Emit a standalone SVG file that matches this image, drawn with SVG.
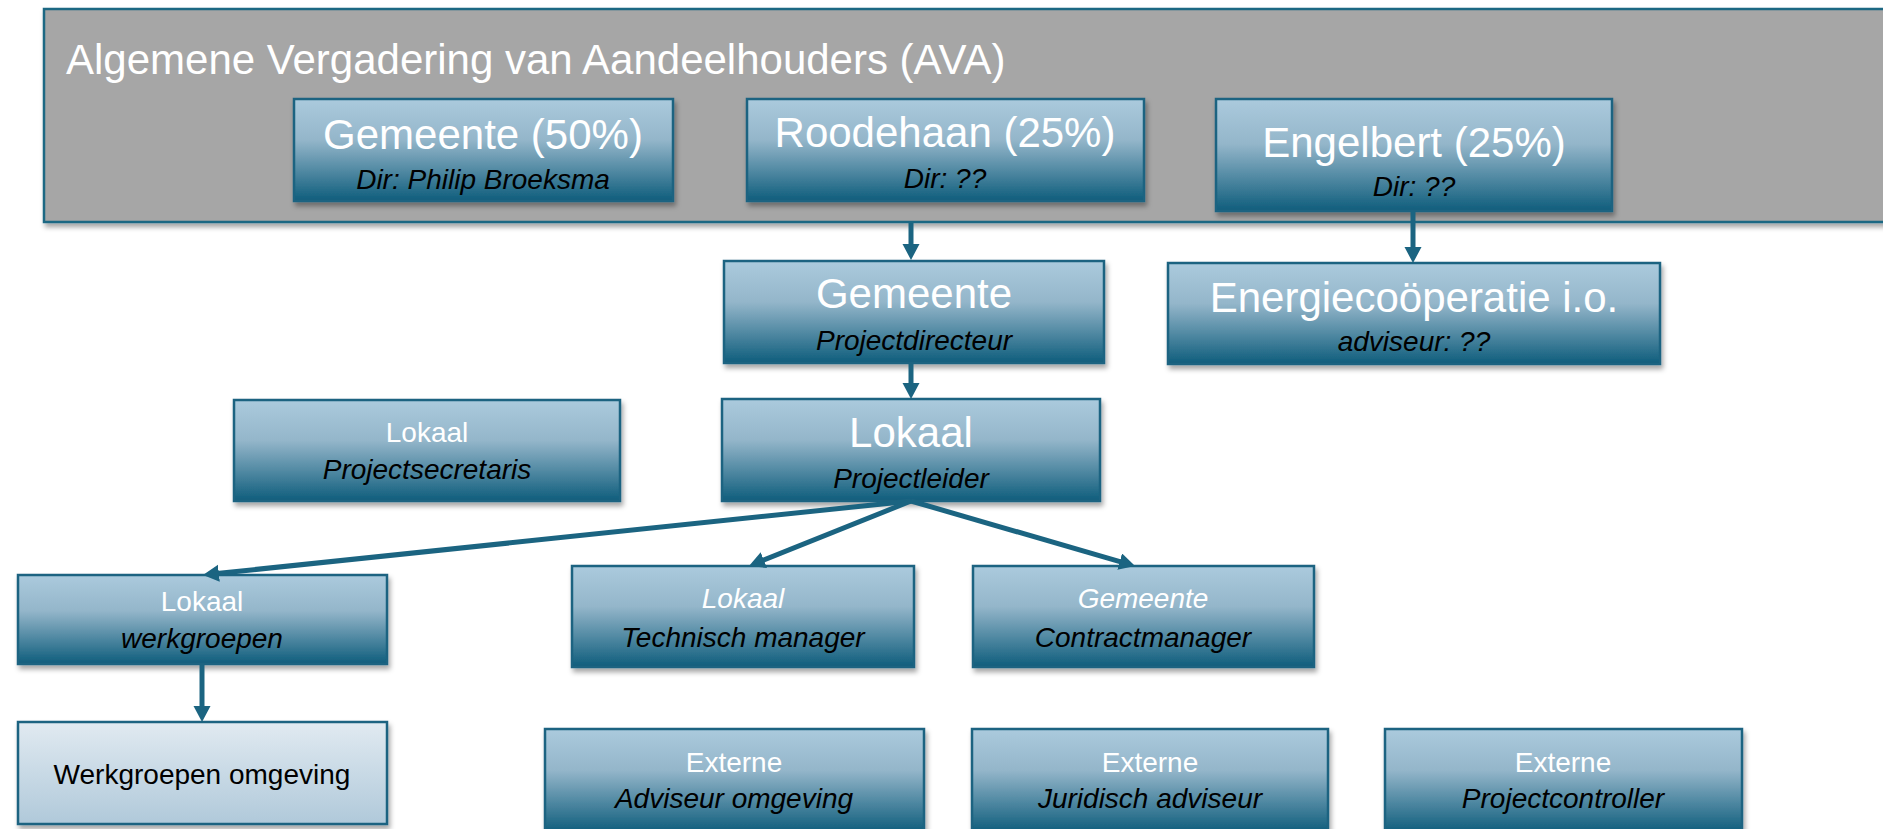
<svg xmlns="http://www.w3.org/2000/svg" width="1883" height="829" viewBox="0 0 1883 829">
<defs>
<linearGradient id="gBlue" x1="0" y1="0" x2="0" y2="1">
<stop offset="0" stop-color="#abcadd"/>
<stop offset="0.4" stop-color="#94b6ca"/>
<stop offset="1" stop-color="#0f5d7c"/>
</linearGradient>
<linearGradient id="gLight" x1="0" y1="0" x2="0" y2="1">
<stop offset="0" stop-color="#e1eaf1"/>
<stop offset="1" stop-color="#b0c9da"/>
</linearGradient>
<filter id="sh" x="-5%" y="-10%" width="115%" height="130%">
<feDropShadow dx="2" dy="4" stdDeviation="2.5" flood-color="#000" flood-opacity="0.35"/>
</filter>
<marker id="ah" markerUnits="userSpaceOnUse" markerWidth="20" markerHeight="20" refX="2" refY="8.5" orient="auto">
<path d="M0,0 L16,8.5 L0,17 z" fill="#1b6481"/>
</marker>
<style>
.box{fill:url(#gBlue);stroke:#1b6481;stroke-width:2.5;filter:url(#sh)}
.lbox{fill:url(#gLight);stroke:#1b6481;stroke-width:2.5;filter:url(#sh)}
.ava{fill:#a6a6a6;stroke:#1e6883;stroke-width:2.5;filter:url(#sh)}
text{font-family:"Liberation Sans",Arial,sans-serif;text-anchor:middle}
.big{font-size:42px;fill:#fff}
.sm{font-size:28px;fill:#fff}
.smi{font-size:28px;fill:#fff;font-style:italic}
.sub{font-size:28px;fill:#000;font-style:italic}
.plain{font-size:28px;fill:#000}
.con{stroke:#1b6481;stroke-width:5;fill:none;marker-end:url(#ah)}
</style>
</defs>
<rect width="1883" height="829" fill="#fff"/>
<g id="ava">
<rect class="ava" x="44" y="9" width="1860" height="213"/>
<text class="big" x="66" y="74" style="text-anchor:start">Algemene Vergadering van Aandeelhouders (AVA)</text>
</g>
<g id="gemeente50">
<rect class="box" x="294" y="99" width="379" height="102"/>
<text class="big" x="483" y="149">Gemeente (50%)</text>
<text class="sub" x="483" y="189">Dir: Philip Broeksma</text>
</g>
<g id="roodehaan">
<rect class="box" x="747" y="99" width="397" height="102"/>
<text class="big" x="945" y="147">Roodehaan (25%)</text>
<text class="sub" x="945" y="188">Dir: ??</text>
</g>
<g id="engelbert">
<rect class="box" x="1216" y="99" width="396" height="112"/>
<text class="big" x="1414" y="157">Engelbert (25%)</text>
<text class="sub" x="1414" y="196">Dir: ??</text>
</g>
<g id="projectdirecteur">
<rect class="box" x="724" y="261" width="380" height="102"/>
<text class="big" x="914" y="308">Gemeente</text>
<text class="sub" x="914" y="350">Projectdirecteur</text>
</g>
<g id="energie">
<rect class="box" x="1168" y="263" width="492" height="101"/>
<text class="big" x="1414" y="312">Energiecoöperatie i.o.</text>
<text class="sub" x="1414" y="351">adviseur: ??</text>
</g>
<g id="projectleider">
<rect class="box" x="722" y="399" width="378" height="102"/>
<text class="big" x="911" y="447">Lokaal</text>
<text class="sub" x="911" y="488">Projectleider</text>
</g>
<g id="projectsecretaris">
<rect class="box" x="234" y="400" width="386" height="101"/>
<text class="sm" x="427" y="442">Lokaal</text>
<text class="sub" x="427" y="479">Projectsecretaris</text>
</g>
<g id="werkgroepen">
<rect class="box" x="18" y="575" width="369" height="89"/>
<text class="sm" x="202" y="611">Lokaal</text>
<text class="sub" x="202" y="648">werkgroepen</text>
</g>
<g id="werkgroepen-omgeving">
<rect class="lbox" x="18" y="722" width="369" height="102"/>
<text class="plain" x="202" y="784">Werkgroepen omgeving</text>
</g>
<g id="technisch">
<rect class="box" x="572" y="566" width="342" height="101"/>
<text class="smi" x="743" y="608">Lokaal</text>
<text class="sub" x="743" y="647">Technisch manager</text>
</g>
<g id="contract">
<rect class="box" x="973" y="566" width="341" height="101"/>
<text class="smi" x="1143" y="608">Gemeente</text>
<text class="sub" x="1143" y="647">Contractmanager</text>
</g>
<g id="adviseur-omgeving">
<rect class="box" x="545" y="729" width="379" height="103"/>
<text class="sm" x="734" y="772">Externe</text>
<text class="sub" x="734" y="808">Adviseur omgeving</text>
</g>
<g id="juridisch">
<rect class="box" x="972" y="729" width="356" height="103"/>
<text class="sm" x="1150" y="772">Externe</text>
<text class="sub" x="1150" y="808">Juridisch adviseur</text>
</g>
<g id="projectcontroller">
<rect class="box" x="1385" y="729" width="357" height="103"/>
<text class="sm" x="1563" y="772">Externe</text>
<text class="sub" x="1563" y="808">Projectcontroller</text>
</g>
<g id="connectors">
<line class="con" x1="911" y1="223" x2="911" y2="246"/>
<line class="con" x1="1413" y1="211" x2="1413" y2="249"/>
<line class="con" x1="911" y1="363" x2="911" y2="385"/>
<line class="con" x1="911" y1="501" x2="216.9" y2="573.5"/>
<line class="con" x1="911" y1="501" x2="762" y2="560.8"/>
<line class="con" x1="911" y1="501" x2="1121.6" y2="562.1"/>
<line class="con" x1="202" y1="664" x2="202" y2="708"/>
</g>
</svg>
